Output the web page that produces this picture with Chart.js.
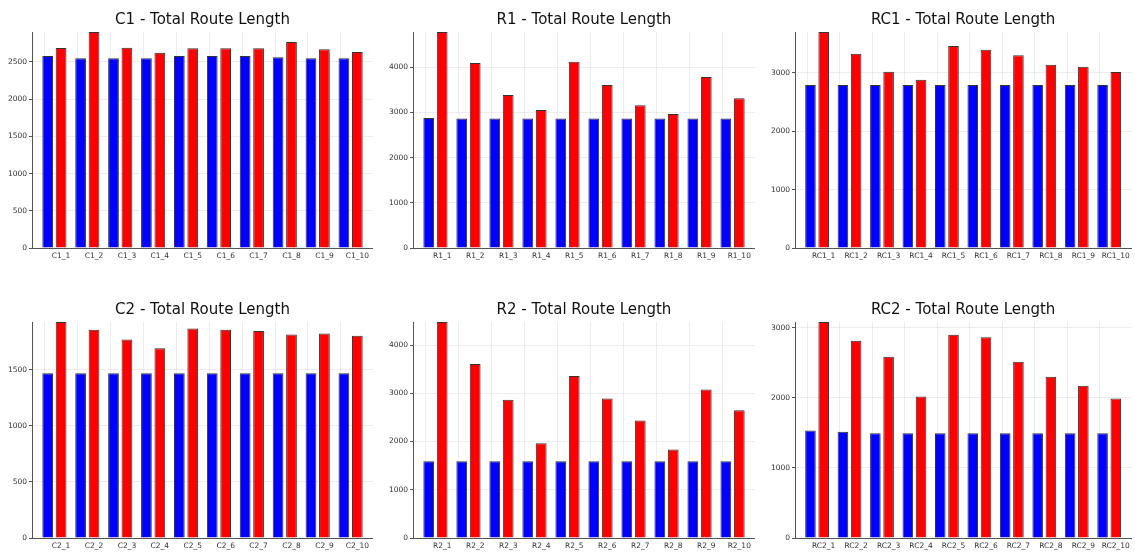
<!DOCTYPE html>
<html>
<head>
<meta charset="utf-8">
<script src="https://cdn.jsdelivr.net/npm/chart.js@4.4.1/dist/chart.umd.min.js"></script>
<style>
  body { margin: 0; background: #fff; width: 1135px; height: 554px; position: relative; overflow: hidden; }
  .panel { position: absolute; }
</style>
</head>
<body>
<script>
// tick labels
const c1Labels = ['C1_1', 'C1_2', 'C1_3', 'C1_4', 'C1_5', 'C1_6', 'C1_7', 'C1_8', 'C1_9', 'C1_10'];
const r1Labels = ['R1_1', 'R1_2', 'R1_3', 'R1_4', 'R1_5', 'R1_6', 'R1_7', 'R1_8', 'R1_9', 'R1_10'];
const rc1Labels = ['RC1_1', 'RC1_2', 'RC1_3', 'RC1_4', 'RC1_5', 'RC1_6', 'RC1_7', 'RC1_8', 'RC1_9', 'RC1_10'];
const c2Labels = ['C2_1', 'C2_2', 'C2_3', 'C2_4', 'C2_5', 'C2_6', 'C2_7', 'C2_8', 'C2_9', 'C2_10'];
const r2Labels = ['R2_1', 'R2_2', 'R2_3', 'R2_4', 'R2_5', 'R2_6', 'R2_7', 'R2_8', 'R2_9', 'R2_10'];
const rc2Labels = ['RC2_1', 'RC2_2', 'RC2_3', 'RC2_4', 'RC2_5', 'RC2_6', 'RC2_7', 'RC2_8', 'RC2_9', 'RC2_10'];

// blue = first series, red = second series
const c1Blue = [2581, 2549, 2549, 2549, 2581, 2581, 2581, 2563, 2549, 2549];
const c1Red = [2688, 2903, 2693, 2625, 2684, 2684, 2684, 2769, 2670, 2634];
const r1Blue = [2880, 2865, 2865, 2865, 2865, 2865, 2865, 2865, 2865, 2865];
const r1Red = [4782, 4096, 3387, 3055, 4125, 3609, 3159, 2967, 3786, 3314];
const rc1Blue = [2790, 2790, 2790, 2790, 2790, 2790, 2790, 2790, 2790, 2790];
const rc1Red = [3697, 3326, 3018, 2881, 3457, 3394, 3297, 3137, 3103, 3012];
const c2Blue = [1470, 1470, 1470, 1470, 1470, 1470, 1470, 1470, 1470, 1470];
const c2Red = [1926, 1857, 1771, 1693, 1869, 1857, 1845, 1815, 1824, 1804];
const r2Blue = [1592, 1592, 1592, 1592, 1592, 1592, 1592, 1592, 1592, 1592];
const r2Red = [4478, 3606, 2865, 1965, 3356, 2893, 2436, 1834, 3080, 2651];
const rc2Blue = [1533, 1514, 1495, 1495, 1495, 1495, 1495, 1495, 1495, 1495];
const rc2Red = [3081, 2814, 2586, 2019, 2900, 2862, 2514, 2300, 2171, 1990];

const FONT = 'DejaVu Sans';

const panels = [
    { title: 'C1 - Total Route Length', labels: c1Labels, blue: c1Blue, red: c1Red, step: 500, left: 0, top: 0, width: 373 },
    { title: 'R1 - Total Route Length', labels: r1Labels, blue: r1Blue, red: r1Red, step: 1000, left: 381, top: 0, width: 374 },
    { title: 'RC1 - Total Route Length', labels: rc1Labels, blue: rc1Blue, red: rc1Red, step: 1000, left: 763, top: 0, width: 371 },
    { title: 'C2 - Total Route Length', labels: c2Labels, blue: c2Blue, red: c2Red, step: 500, left: 0, top: 290, width: 373 },
    { title: 'R2 - Total Route Length', labels: r2Labels, blue: r2Blue, red: r2Red, step: 1000, left: 381, top: 290, width: 374 },
    { title: 'RC2 - Total Route Length', labels: rc2Labels, blue: rc2Blue, red: rc2Red, step: 1000, left: 763, top: 290, width: 371 },
];

const CAT_PCT = 0.815;
const BAR_PCT = 0.8;

panels.forEach(p => {
    const div = document.createElement('div');
    div.className = 'panel';
    div.style.left = p.left + 'px';
    div.style.top = p.top + 'px';
    div.style.width = p.width + 'px';
    div.style.height = '264px';
    const canvas = document.createElement('canvas');
    div.appendChild(canvas);
    document.body.appendChild(div);

    const yMax = Math.max(...p.red, ...p.blue);
    // in Plots the tick sits under the second bar of each pair
    const tickShift = CAT_PCT / 4;

    new Chart(canvas, {
        type: 'bar',
        data: {
            datasets: [{
                data: p.blue.map((v, i) => ({ x: i + 1, y: v })),
                backgroundColor: '#0000ff',
                borderColor: '#333',
                borderWidth: 1,
                categoryPercentage: CAT_PCT,
                barPercentage: BAR_PCT,
            }, {
                data: p.red.map((v, i) => ({ x: i + 1, y: v })),
                backgroundColor: '#ff0000',
                borderColor: '#333',
                borderWidth: 1,
                categoryPercentage: CAT_PCT,
                barPercentage: BAR_PCT,
            }],
        },
        options: {
            animation: false,
            responsive: true,
            maintainAspectRatio: false,
            layout: { padding: 0 },
            plugins: {
                legend: { display: false },
                tooltip: { enabled: false },
                title: {
                    display: true,
                    text: p.title,
                    fullSize: false,
                    color: '#111',
                    font: { family: FONT, size: 15, weight: 'normal', lineHeight: 1.2 },
                    padding: { top: 11, bottom: 3 },
                },
            },
            scales: {
                x: {
                    type: 'linear',
                    bounds: 'data',
                    min: 0.32,
                    max: p.labels.length + 0.68,
                    offset: false,
                    afterBuildTicks: scale => {
                        scale.ticks = p.labels.map((_, i) => ({ value: i + 1 + tickShift }));
                    },
                    afterFit: scale => { scale.height = 16; },
                    ticks: {
                        autoSkip: false,
                        maxRotation: 0,
                        minRotation: 0,
                        padding: 4,
                        color: '#333',
                        font: { family: FONT, size: 7.5 },
                        callback: (value, index) => p.labels[index],
                    },
                    grid: { color: 'rgba(0,0,0,0.07)', drawTicks: false },
                    border: { color: '#555', width: 1 },
                },
                y: {
                    min: 0,
                    max: yMax,
                    bounds: 'data',
                    afterBuildTicks: scale => {
                        const ticks = [];
                        for (let v = 0; v <= yMax; v += p.step) ticks.push({ value: v });
                        scale.ticks = ticks;
                    },
                    afterFit: scale => { scale.width = 32; },
                    ticks: {
                        padding: 2,
                        color: '#333',
                        font: { family: FONT, size: 7.5 },
                        callback: value => String(value),
                    },
                    grid: { color: 'rgba(0,0,0,0.07)', tickLength: 3, tickColor: '#555' },
                    border: { color: '#555', width: 1 },
                },
            },
        },
    });
});
</script>
</body>
</html>
